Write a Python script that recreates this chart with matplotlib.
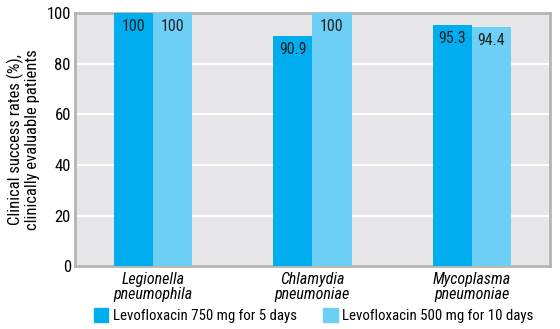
import numpy as np
import matplotlib.pyplot as plt
from matplotlib.patches import Patch

plt.rcParams['font.family'] = ['Roboto Condensed', 'DejaVu Sans']

organisms = ['Legionella\npneumophila', 'Chlamydia\npneumoniae', 'Mycoplasma\npneumoniae']
series_names = ['Levofloxacin 750 mg for 5 days', 'Levofloxacin 500 mg for 10 days']
rate_750 = [100, 90.9, 95.3]
rate_500 = [100, 100, 94.4]
yticks = [0, 20, 40, 60, 80, 100]

c_dark = '#00aeef'
c_light = '#6dcff6'

fig = plt.figure(figsize=(5.6, 3.29), dpi=100)
ax = fig.add_axes([0.134, 0.191, 0.848, 0.769])
ax.set_facecolor('#e6e6e8')

x = np.arange(len(organisms))
w = 0.245
b1 = ax.bar(x - w/2, rate_750, w, color=c_dark, zorder=3)
b2 = ax.bar(x + w/2, rate_500, w, color=c_light, zorder=3)

for bars, vals in ((b1, rate_750), (b2, rate_500)):
    for b, v in zip(bars, vals):
        lab = '%g' % v
        ax.annotate(lab, (b.get_x() + b.get_width()/2, v), xytext=(0, -4),
                    textcoords='offset points', ha='center', va='top',
                    fontsize=11.5, color='#222222', zorder=4)

ax.set_xlim(-0.49, 2.49)
ax.set_ylim(0, 100)
ax.set_yticks(yticks)
ax.set_yticklabels([str(t) for t in yticks], fontsize=12)
ax.set_xticks(x)
ax.set_xticklabels(organisms, fontsize=11.5, style='italic', linespacing=1.0)
ax.tick_params(length=0, pad=3)
ax.tick_params(axis='x', pad=4)
ax.yaxis.grid(True, color='white', linewidth=1.5, zorder=1)
ax.set_axisbelow(True)
for s in ax.spines.values():
    s.set_color('#b4b4b4')
    s.set_linewidth(2)

ax.set_ylabel('Clinical success rates (%),\nclinically evaluable patients',
              fontsize=12, linespacing=1.05, labelpad=5)

handles = [Patch(color=c_dark), Patch(color=c_light)]
fig.legend(handles, series_names, loc='center', bbox_to_anchor=(0.56, 0.040),
           ncol=2, frameon=False, fontsize=10.7, handlelength=1.0, handleheight=1.0,
           handletextpad=0.3, columnspacing=1.75)

fig.savefig('out.png', dpi=100)
